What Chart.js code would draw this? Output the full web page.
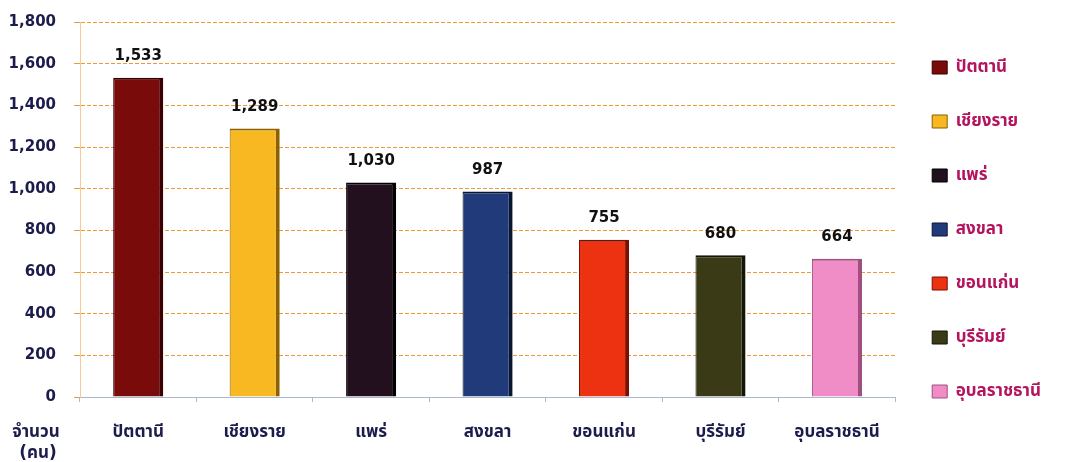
<!DOCTYPE html>
<html>
<head>
<meta charset="utf-8">
<script src="https://cdn.jsdelivr.net/npm/chart.js@4/dist/chart.umd.min.js"></script>
<style>
html,body{margin:0;padding:0;background:#fff;}
#wrap{width:1067px;height:462px;position:relative;}
</style>
</head>
<body>
<div id="wrap"><canvas id="c" width="1067" height="462"></canvas></div>
<script>
const categories = ['ปัตตานี','เชียงราย','แพร่','สงขลา','ขอนแก่น','บุรีรัมย์','อุบลราชธานี'];
const values = [1533, 1289, 1030, 987, 755, 680, 664];
const barColors = ['#7a0b0b','#f7b822','#22101f','#213b7a','#ec3210','#3b3a17','#f08cc6'];
const edgeColors = ['#3a0000','#8a6000','#000000','#0a1530','#7a1000','#15150a','#a05080'];
const yTicks = [0,200,400,600,800,1000,1200,1400,1600,1800];
const axisTitle = ['จำนวน','(คน)'];

const FONT = "'DejaVu Sans','Noto Sans Thai','Noto Sans',sans-serif";

const valueLabels = {
  id:'valueLabels',
  afterDatasetsDraw(chart){
    const {ctx} = chart;
    const meta = chart.getDatasetMeta(0);
    ctx.save();
    ctx.font = 'bold 15px ' + FONT;
    ctx.fillStyle = '#111';
    ctx.textAlign = 'center';
    ctx.textBaseline = 'bottom';
    meta.data.forEach((bar,i)=>{
      ctx.fillText(values[i].toLocaleString('en-US'), bar.x, bar.y - 14);
    });
    ctx.restore();
  }
};
const yTitle = {
  id:'yTitle',
  afterDraw(chart){
    const {ctx} = chart;
    ctx.save();
    ctx.font = 'bold 17px ' + FONT;
    ctx.fillStyle = '#1c1c4c';
    ctx.textAlign = 'center';
    ctx.textBaseline = 'middle';
    ctx.fillText(axisTitle[0], 36, 433);
    ctx.fillText(axisTitle[1], 38, 454);
    ctx.restore();
  }
};

new Chart(document.getElementById('c'), {
  type:'bar',
  data:{
    labels:categories,
    datasets:[{
      data:values,
      backgroundColor:barColors,
      borderColor:edgeColors,
      borderWidth:{left:1,right:4,top:2,bottom:0},
      borderSkipped:false,
      barPercentage:0.86,
      categoryPercentage:0.5
    }]
  },
  options:{
    responsive:false,
    animation:false,
    layout:{padding:{top:22,right:16,bottom:0,left:0}},
    scales:{
      x:{
        afterFit(s){ s.height = 65; },
        grid:{display:true, drawOnChartArea:false, offset:true, tickLength:5, color:'#a9b8cc'},
        border:{display:true, color:'#a9b8cc', width:1},
        ticks:{padding:20, color:'#1c1c4c', font:{family:FONT, size:17, weight:'bold'}}
      },
      y:{
        min:0, max:1800,
        afterFit(s){ s.width = 80; s.paddingTop = 0; s.paddingBottom = 0; },
        afterBuildTicks(s){ s.ticks = yTicks.map(v=>({value:v})); },
        grid:{color:'#ef9a3a', lineWidth:1, tickLength:6, tickColor:'#ef9a3a'},
        border:{display:true, color:'#f6c89a', dash:[4,2]},
        ticks:{padding:18, color:'#1c1c4c', font:{family:FONT, size:15, weight:'bold'},
          callback:(v)=>Number(v).toLocaleString('en-US')}
      }
    },
    plugins:{
      tooltip:{enabled:false},
      legend:{
        position:'right',
        align:'start',
        onClick:null,
        labels:{
          boxWidth:15, boxHeight:13, padding:37,
          color:'#b3145e',
          font:{family:FONT, size:17, weight:'bold'},
          generateLabels(){
            return categories.map((c,i)=>({text:c, fillStyle:barColors[i], strokeStyle:edgeColors[i], lineWidth:1, hidden:false, index:i, fontColor:'#b3145e'}));
          }
        }
      }
    }
  },
  plugins:[valueLabels, yTitle]
});
</script>
</body>
</html>
